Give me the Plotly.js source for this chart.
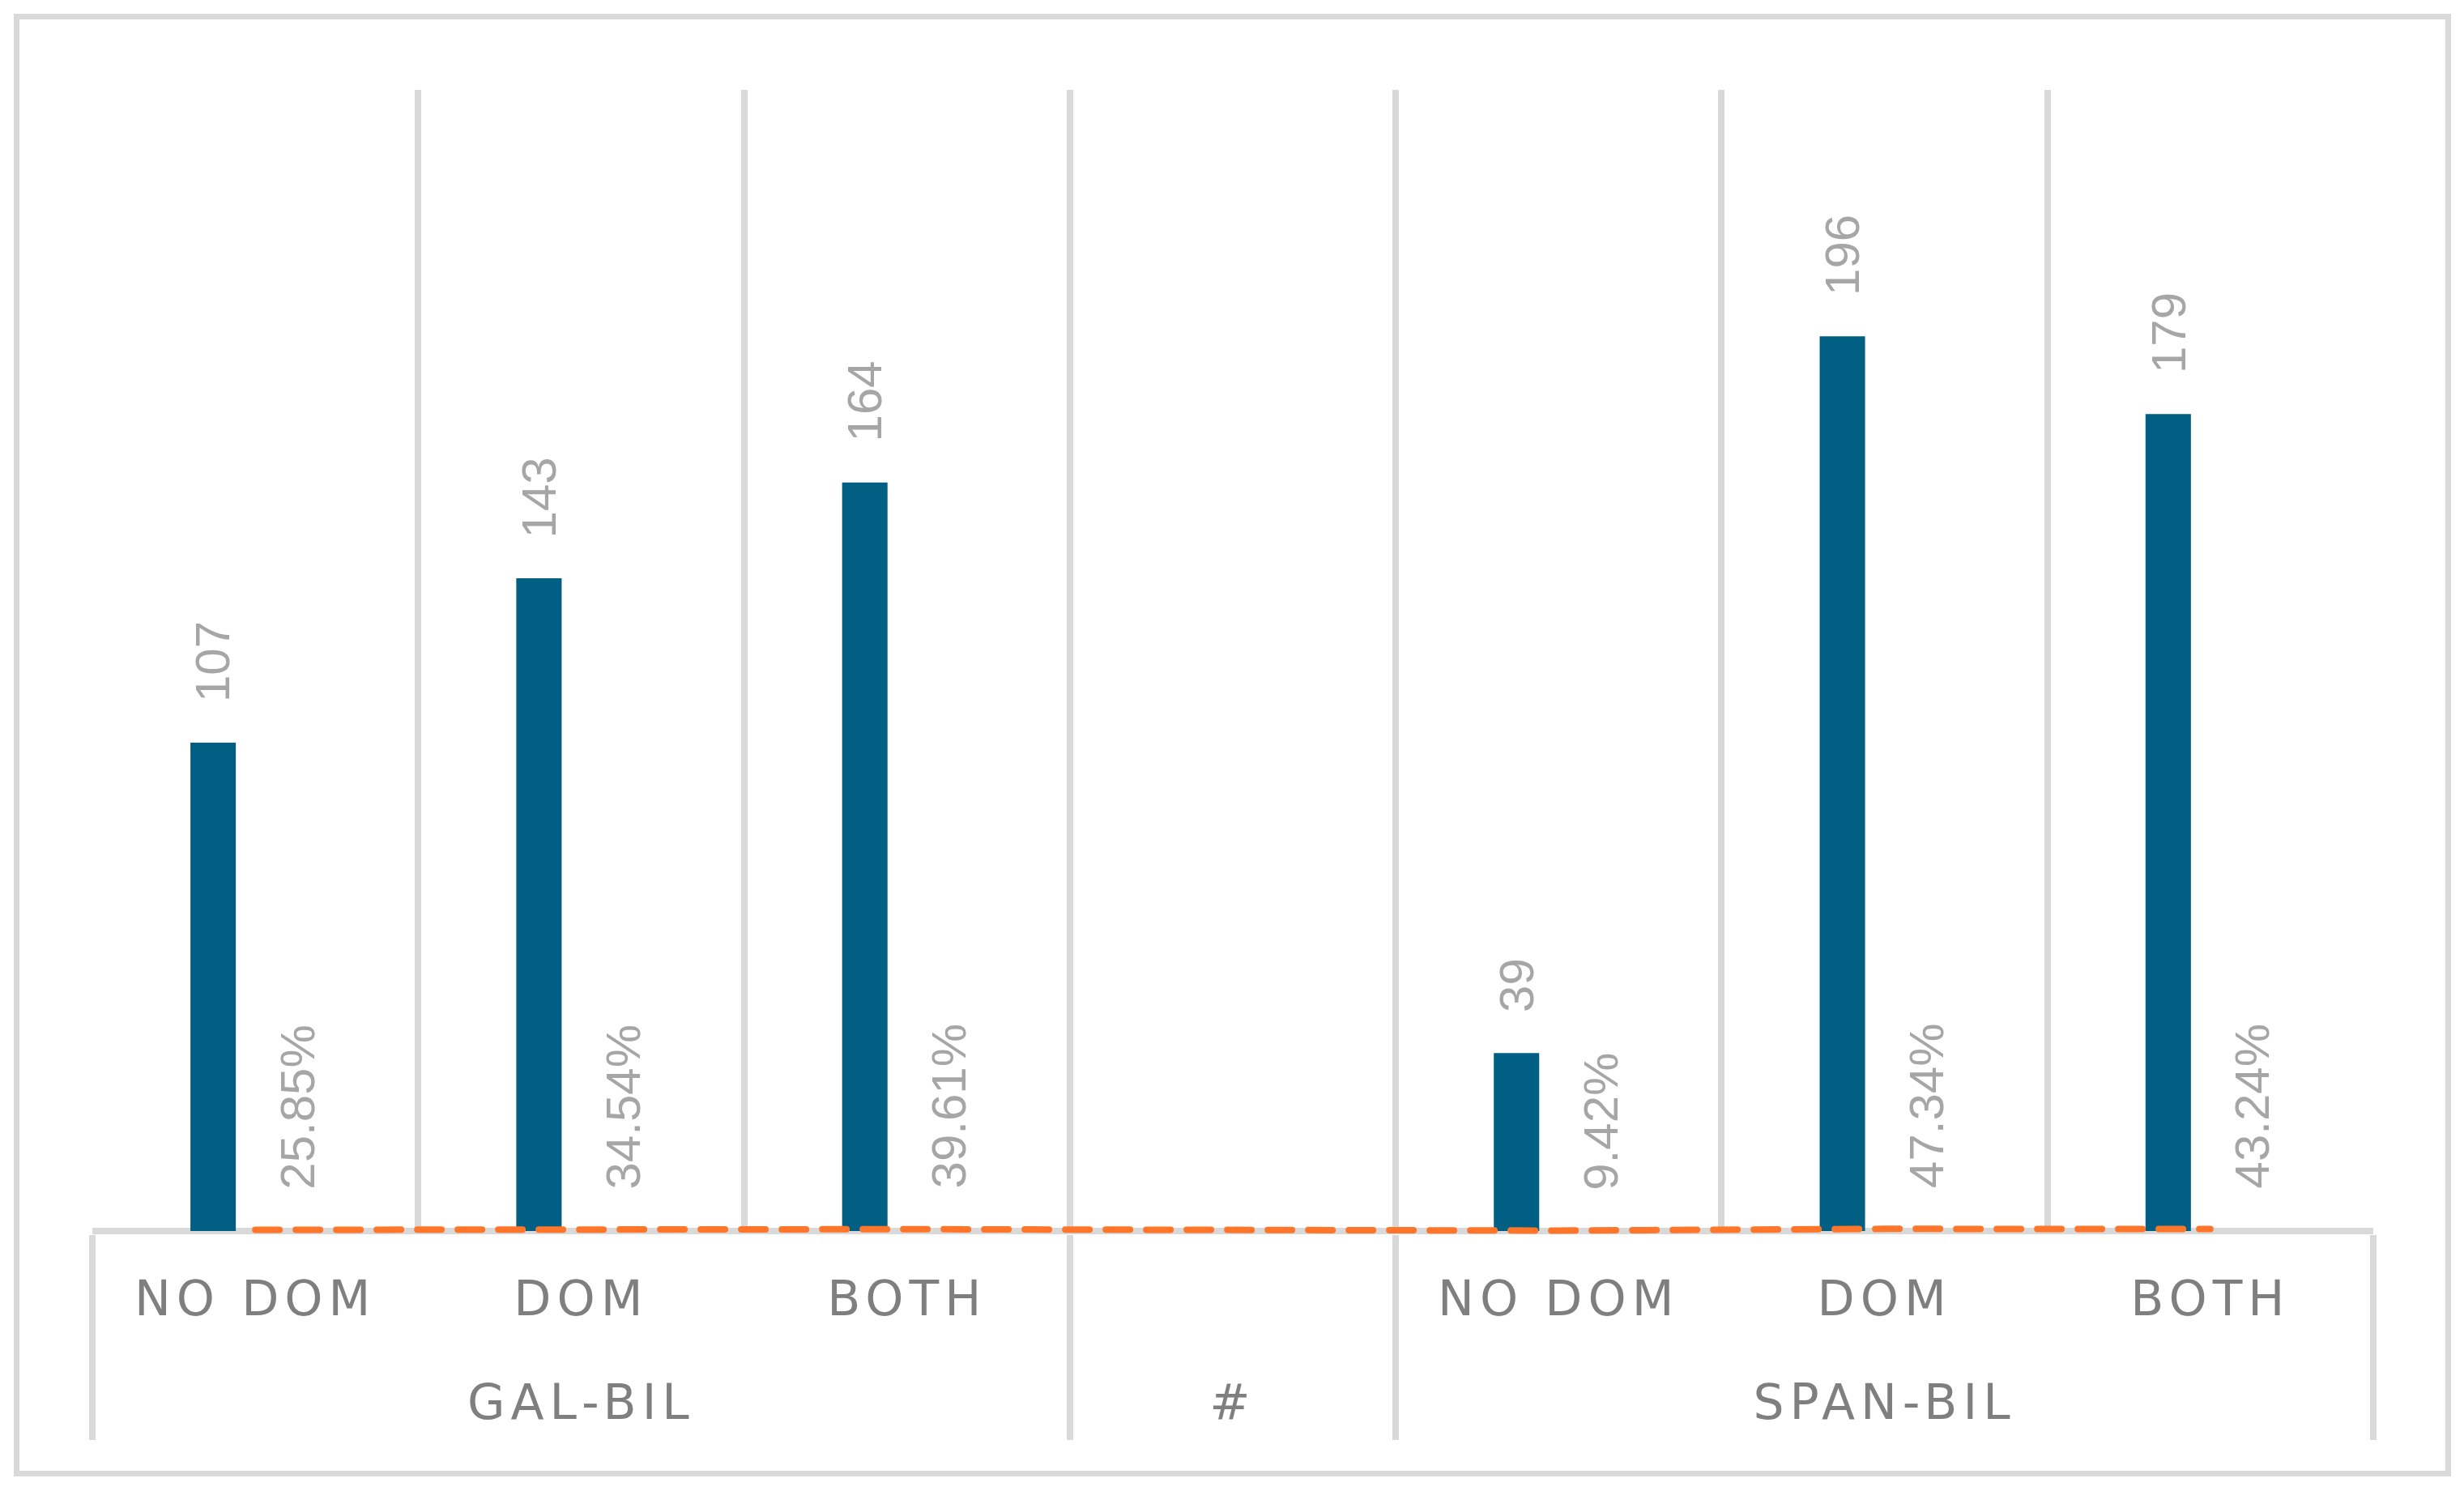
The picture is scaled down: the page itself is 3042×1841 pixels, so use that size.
<!DOCTYPE html>
<html><head><meta charset="utf-8">
<script src="https://cdn.plot.ly/plotly-3.0.1.min.js"></script>
<style>
html,body{margin:0;padding:0;background:#fff;}
#chart{position:absolute;left:0;top:0;width:3042px;height:1841px;}
#frame{position:absolute;left:17px;top:17px;width:3009px;height:1806px;box-sizing:border-box;border:7px solid #D9D9D9;pointer-events:none;}
g.xtick text, g.xtick2 text{letter-spacing:7px;}
.scatterlayer path.js-line{stroke-linecap:round !important;}
</style></head>
<body><div id="chart"></div><div id="frame"></div>
<script>
const groups = ["GAL-BIL","GAL-BIL","GAL-BIL","#","SPAN-BIL","SPAN-BIL","SPAN-BIL"];
const subcats = ["NO DOM","DOM","BOTH"," ","NO DOM","DOM","BOTH"];
const counts = [107,143,164,null,39,196,179];
const percents = [25.85,34.54,39.61,null,9.42,47.34,43.24];

const fractions = percents.map(p => p === null ? null : p / 100);
const xcat = [groups, subcats];

const BLUE = '#005F83', ORANGE = '#FF762B', GRID = '#D9D9D9';

const traces = [
  {type:'bar', x:xcat, y:counts, marker:{color:BLUE}, name:'Count', hoverinfo:'skip'},
  {type:'bar', x:xcat, y:fractions, marker:{color:'rgba(0,0,0,0)'}, name:'Percent', hoverinfo:'skip'},
  {type:'scatter', mode:'lines', x:xcat, y:fractions, connectgaps:true,
   line:{color:ORANGE, width:8, dash:'30px,20px'}, name:'Percent line', hoverinfo:'skip'}
];

const labelFont = {family:'Liberation Sans, Arial, sans-serif', size:60, color:'#A6A6A6'};
const annotations = [];
counts.forEach((v, i) => {
  if (v === null) return;
  annotations.push({x:i, y:v, xref:'x', yref:'y', text:String(v), showarrow:false,
    textangle:-90, xanchor:'center', yanchor:'bottom', xshift:-52, yshift:48, font:labelFont});
});
fractions.forEach((v, i) => {
  if (v === null) return;
  annotations.push({x:i, y:v, xref:'x', yref:'y', text:percents[i].toFixed(2) + '%', showarrow:false,
    textangle:-90, xanchor:'center', yanchor:'bottom', xshift:52, yshift:48, font:labelFont});
});

const layout = {
  width:3042, height:1841,
  margin:{l:114, r:112, t:111, b:317},
  paper_bgcolor:'#FFFFFF', plot_bgcolor:'#FFFFFF',
  showlegend:false, hovermode:false,
  barmode:'group', bargap:0.4826, bargroupgap:0.4615,
  xaxis:{type:'multicategory', range:[-0.5, 6.5], tickson:'boundaries',
    showgrid:true, gridcolor:GRID, gridwidth:8,
    showline:false, ticks:'', ticklabelstandoff:20,
    showdividers:true, dividercolor:GRID, dividerwidth:8,
    tickfont:{family:'DejaVu Sans, sans-serif', size:60, color:'#7F7F7F'},
    zeroline:false, fixedrange:true},
  yaxis:{range:[-0.71,250], showgrid:false, showticklabels:false, showline:false, ticks:'',
    zeroline:true, zerolinecolor:GRID, zerolinewidth:8, fixedrange:true},
  annotations:annotations
};

// vertical placement of the two category label rows and the group dividers (page px)
const SUB_ROW_CENTER = 1603, GROUP_ROW_CENTER = 1731, DIVIDER_BOTTOM = 1778;

Plotly.newPlot('chart', traces, layout, {displayModeBar:false, staticPlot:true}).then(function(gd){
  function place(sel, target){
    gd.querySelectorAll(sel).forEach(function(t){
      const r = t.getBoundingClientRect();
      if (!r.height) return;
      const dy = target - (r.top + r.bottom) / 2;
      t.setAttribute('transform', (t.getAttribute('transform') || '') + ' translate(0,' + dy + ')');
    });
  }
  place('g.xtick text', SUB_ROW_CENTER);
  place('g.xtick2 text', GROUP_ROW_CENTER);
  gd.querySelectorAll('path.xdivider').forEach(function(p){
    const bb = p.getBBox();
    const r = p.getBoundingClientRect();
    p.setAttribute('d', 'M' + bb.x + ',' + bb.y + 'v' + (DIVIDER_BOTTOM - r.top));
  });
});
</script>
</body></html>
